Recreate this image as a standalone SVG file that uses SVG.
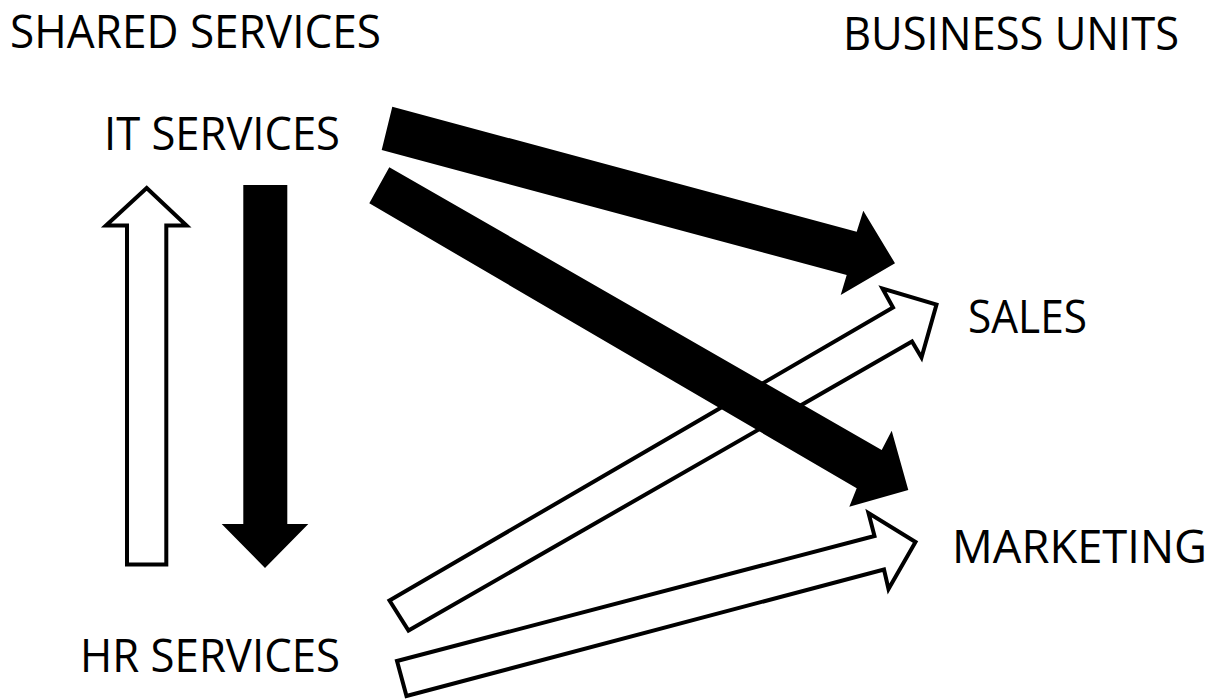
<svg xmlns="http://www.w3.org/2000/svg" width="1217" height="700" viewBox="0 0 1217 700">
  <style>
    .label { font-family: "Open Sans", "Noto Sans", "Liberation Sans", sans-serif; font-size: 45px; fill: #000; }
    .solid { fill: #000; stroke: none; }
    .hollow { fill: #fff; stroke: #000; stroke-width: 4; stroke-linejoin: miter; }
  </style>
  <rect width="1217" height="700" fill="#fff"/>

  <!-- column headings -->
  <g id="heading-shared">
    <text class="label" x="10" y="48" textLength="371" lengthAdjust="spacingAndGlyphs">SHARED SERVICES</text>
  </g>
  <g id="heading-units">
    <text class="label" x="843" y="50" textLength="336" lengthAdjust="spacingAndGlyphs">BUSINESS UNITS</text>
  </g>

  <!-- nodes -->
  <g id="it-services">
    <text class="label" x="104" y="150" textLength="236" lengthAdjust="spacingAndGlyphs">IT SERVICES</text>
  </g>
  <g id="hr-services">
    <text class="label" x="80" y="672" textLength="260" lengthAdjust="spacingAndGlyphs">HR SERVICES</text>
  </g>
  <g id="sales">
    <text class="label" x="968" y="333" textLength="119" lengthAdjust="spacingAndGlyphs">SALES</text>
  </g>
  <g id="marketing">
    <text class="label" x="952" y="563" textLength="255" lengthAdjust="spacingAndGlyphs">MARKETING</text>
  </g>

  <!-- block-arrow connectors: hollow ones first, solid ones drawn over them -->
  <g id="connectors">
    <!-- HR -> IT -->
    <polygon class="hollow" points="127,564.5 127,225.5 106,225.5 146.7,188 186.5,225.5 166.3,225.5 166.3,564.5"/>
    <!-- HR -> SALES -->
    <polygon class="hollow" points="389.5,600.5 893,307.5 882.5,288.5 936.5,304.5 921.5,357.5 912,341.5 408.5,630.5"/>
    <!-- HR -> MARKETING -->
    <polygon class="hollow" points="397,661 874.5,536 868.5,513 915.5,542 888.5,589 884,569.5 406.5,696"/>
    <!-- IT -> HR -->
    <polygon class="solid" points="243.3,185 287.3,185 287.3,524 308.3,524 265,568 221.7,524 243.3,524"/>
    <!-- IT -> SALES -->
    <polygon class="solid" points="392.3,106.7 856.7,231.7 863.3,210.7 895,263.3 840.7,295 846.7,275 381.7,150"/>
    <!-- IT -> MARKETING -->
    <polygon class="solid" points="389.3,167.3 881.7,450 891.7,430.7 908.3,490 849.3,506.7 856.7,488.3 369.3,203.3"/>
  </g>
</svg>
